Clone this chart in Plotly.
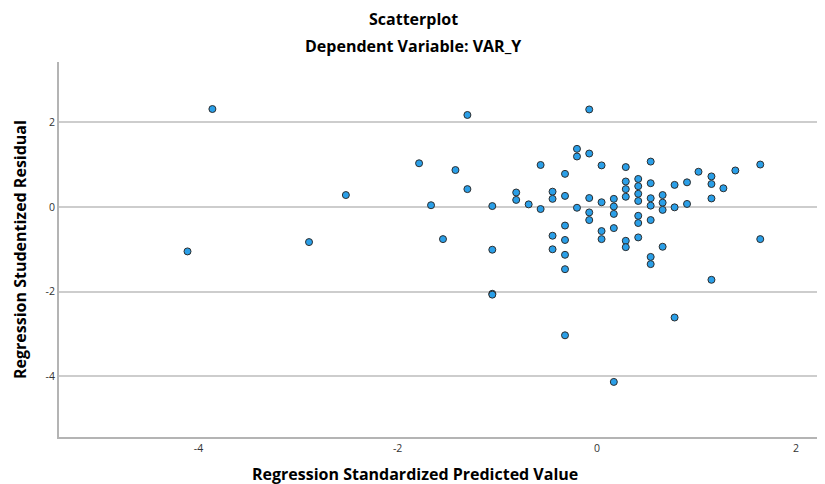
import plotly.graph_objects as go

pred_x = [-4.11, -3.86, -2.89, -2.52, -1.785, -1.665, -1.545, -1.42, -1.30, -1.30,
          -1.05, -1.05, -1.05, -1.05, -0.81, -0.81, -0.685, -0.565, -0.565,
          -0.445, -0.445, -0.445, -0.445,
          -0.32, -0.32, -0.32, -0.32, -0.32, -0.32, -0.32,
          -0.20, -0.20, -0.20,
          -0.077, -0.077, -0.077, -0.077, -0.077,
          0.047, 0.047, 0.047, 0.047,
          0.17, 0.17, 0.17, 0.17, 0.17,
          0.29, 0.29, 0.29, 0.29, 0.29, 0.29,
          0.415, 0.415, 0.415, 0.415, 0.415, 0.415, 0.415,
          0.54, 0.54, 0.54, 0.54, 0.54, 0.54, 0.54,
          0.66, 0.66, 0.66, 0.66,
          0.78, 0.78, 0.78,
          0.905, 0.905, 1.02,
          1.15, 1.15, 1.15, 1.15,
          1.27, 1.39, 1.64, 1.64]
resid_y = [-1.05, 2.31, -0.83, 0.28, 1.03, 0.04, -0.76, 0.87, 2.17, 0.42,
           0.02, -1.01, -2.05, -2.07, 0.34, 0.165, 0.06, 0.99, -0.05,
           0.36, 0.19, -0.68, -1.00,
           0.78, 0.26, -0.44, -0.78, -1.13, -1.47, -3.03,
           1.37, 1.19, -0.02,
           2.30, 1.26, 0.21, -0.13, -0.31,
           0.98, 0.11, -0.57, -0.76,
           0.19, 0.01, -0.165, -0.50, -4.13,
           0.94, 0.60, 0.42, 0.24, -0.80, -0.95,
           0.66, 0.49, 0.31, 0.14, -0.21, -0.38, -0.72,
           1.07, 0.56, 0.205, 0.03, -0.31, -1.18, -1.35,
           0.28, 0.10, -0.07, -0.94,
           0.52, -0.01, -2.61,
           0.58, 0.07, 0.83,
           0.72, 0.54, 0.20, -1.72,
           0.44, 0.86, 1.00, -0.76]

x_ticks = [-4, -2, 0, 2]
y_ticks = [-4, -2, 0, 2]

FONT = "Open Sans"

# plot area in screen pixels (page has an 8px body margin)
L, R, T, B = 59, 823, 62, 437
OFF = 8
W, H = 817, 476

def px(xs):
    return (xs - L) / (R - L)

def py(ys):
    return (B - ys) / (B - T)

fig = go.Figure()
fig.add_trace(go.Scatter(
    x=pred_x, y=resid_y, mode="markers",
    marker=dict(size=7, color="#2a9fe8",
                line=dict(color="rgb(45,45,45)", width=1)),
    showlegend=False, hoverinfo="x+y"))

fig.update_layout(
    width=W, height=H,
    margin=dict(l=L - OFF, r=W - (R - OFF), t=T - OFF, b=H - (B - OFF), autoexpand=False),
    paper_bgcolor="white", plot_bgcolor="white",
    font=dict(family=FONT, color="rgb(40,40,40)"),
    xaxis=dict(range=[-5.40, 2.27], tickvals=x_ticks, ticktext=[str(v) for v in x_ticks],
               showgrid=False, zeroline=False, showline=True,
               linecolor="rgb(180,180,180)", linewidth=2, ticks="",
               tickfont=dict(size=10.5, color="rgb(50,50,50)")),
    yaxis=dict(range=[-5.43, 3.42], tickvals=y_ticks, ticktext=[str(v) for v in y_ticks],
               showgrid=True, gridcolor="rgb(205,205,205)", gridwidth=1.5,
               zeroline=False, showline=True,
               linecolor="rgb(180,180,180)", linewidth=2, ticks="",
               tickfont=dict(size=10.5, color="rgb(50,50,50)")),
    annotations=[
        dict(text="<b>Scatterplot</b>", xref="paper", yref="paper",
             x=px(413), y=py(19), showarrow=False,
             xanchor="center", yanchor="middle", font=dict(size=16, family=FONT, color="black")),
        dict(text="<b>Dependent Variable: VAR_Y</b>", xref="paper", yref="paper",
             x=px(413), y=py(46), showarrow=False,
             xanchor="center", yanchor="middle", font=dict(size=16, family=FONT, color="black")),
        dict(text="<b>Regression Standardized Predicted Value</b>", xref="paper", yref="paper",
             x=px(415), y=py(474), showarrow=False,
             xanchor="center", yanchor="middle", font=dict(size=16, family=FONT, color="black")),
        dict(text="<b>Regression Studentized Residual</b>", xref="paper", yref="paper",
             x=px(20), y=py(250), showarrow=False, textangle=-90,
             xanchor="center", yanchor="middle", font=dict(size=16, family=FONT, color="black")),
    ],
)

fig.write_html("out.html")
